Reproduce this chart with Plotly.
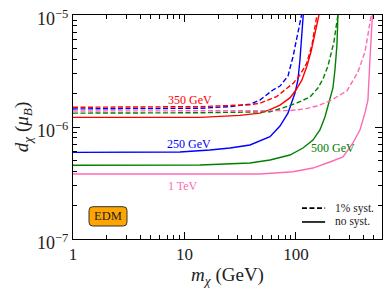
import plotly.graph_objects as go

# ---- data (m_chi in GeV, d_chi in mu_B) ----
m_250_nosys = [1, 4.9, 9.1, 16.9, 25.6, 38.7, 58.5, 71.9, 84.8, 98.0, 104.2, 108.6, 113.2, 116.3]
d_250_nosys = [5.94e-7, 5.94e-7, 5.98e-7, 6.23e-7, 6.49e-7, 6.91e-7, 8.19e-7, 1.02e-6, 1.33e-6, 2.01e-6, 2.63e-6, 3.96e-6, 6.63e-6, 1.0e-5]
m_250_sys = [1, 4.9, 13.8, 25.6, 38.7, 47.5, 62.2, 71.9, 84.8, 94.0, 104.2, 113.2]
d_250_sys = [1.45e-6, 1.45e-6, 1.47e-6, 1.52e-6, 1.60e-6, 1.74e-6, 2.14e-6, 2.32e-6, 2.85e-6, 4.22e-6, 6.91e-6, 1.04e-5]

m_350_nosys = [1, 13.8, 31.5, 47.5, 58.5, 71.9, 88.3, 100.0, 113.2, 125.5, 136.3, 148.1, 160.8]
d_350_nosys = [1.22e-6, 1.22e-6, 1.27e-6, 1.33e-6, 1.43e-6, 1.57e-6, 1.82e-6, 2.14e-6, 2.63e-6, 3.50e-6, 4.67e-6, 6.63e-6, 1.0e-5]
m_350_sys = [1, 13.8, 38.7, 47.5, 67.1, 94.6, 108.6, 124.7, 139.2, 154.3]
d_350_sys = [1.50e-6, 1.52e-6, 1.58e-6, 1.63e-6, 1.87e-6, 2.46e-6, 2.91e-6, 3.70e-6, 5.40e-6, 1.0e-5]

m_500_nosys = [1, 13.8, 38.7, 58.5, 88.3, 115.6, 142.1, 164.1, 182.0, 201.8, 214.7, 223.8, 233.2, 238.1]
d_500_nosys = [4.55e-7, 4.58e-7, 4.77e-7, 5.07e-7, 5.62e-7, 6.49e-7, 7.65e-7, 9.40e-7, 1.23e-6, 1.74e-6, 2.23e-6, 3.23e-6, 5.40e-6, 1.0e-5]
m_500_sys = [1, 13.8, 58.5, 76.4, 102.1, 133.6, 157.5, 174.7, 193.6, 206.0, 219.2, 228.4, 238.1]
d_500_sys = [1.33e-6, 1.34e-6, 1.37e-6, 1.48e-6, 1.64e-6, 1.85e-6, 2.23e-6, 2.68e-6, 3.50e-6, 4.39e-6, 5.74e-6, 7.65e-6, 1.0e-5]

m_1000_nosys = [1, 47.5, 94.0, 142.1, 201.8, 264.0, 324.5, 375.0, 415.8, 442.3, 461.0, 475.5, 485.4]
d_1000_nosys = [3.80e-7, 3.80e-7, 3.99e-7, 4.30e-7, 4.87e-7, 5.40e-7, 7.20e-7, 9.40e-7, 1.33e-6, 1.74e-6, 3.96e-6, 7.35e-6, 1.0e-5]
m_1000_sys = [1, 88.3, 120.4, 154.3, 201.8, 286.7, 359.8, 415.8, 442.3, 461.0, 473.5]
d_1000_sys = [1.39e-6, 1.40e-6, 1.45e-6, 1.54e-6, 1.71e-6, 2.10e-6, 3.10e-6, 4.67e-6, 6.63e-6, 8.66e-6, 1.0e-5]

x_tickvals = [1, 10, 100]
x_ticktext = ["1", "10", "100"]
y_tickvals = [1e-7, 1e-6, 1e-5]
y_ticktext = ["10<sup>−7</sup>", "10<sup>−6</sup>", "10<sup>−5</sup>"]

series = [
    (m_250_nosys, d_250_nosys, "#0000FF", "solid"),
    (m_250_sys, d_250_sys, "#0000FF", "dash"),
    (m_350_nosys, d_350_nosys, "#FF0000", "solid"),
    (m_350_sys, d_350_sys, "#FF0000", "dash"),
    (m_500_nosys, d_500_nosys, "#008000", "solid"),
    (m_500_sys, d_500_sys, "#008000", "dash"),
    (m_1000_nosys, d_1000_nosys, "#FF69B4", "solid"),
    (m_1000_sys, d_1000_sys, "#FF69B4", "dash"),
]

FONT = "Liberation Serif"
DASH = "5px,2.5px"
TXT = "#222"

fig = go.Figure()
for mx, dy, col, ds in series:
    fig.add_trace(go.Scatter(x=mx, y=dy, mode="lines", showlegend=False,
                             line=dict(color=col, width=1.4, dash=DASH if ds == "dash" else "solid")))

minor_x = [2, 3, 4, 5, 6, 7, 8, 9, 20, 30, 40, 50, 60, 70, 80, 90, 200, 300, 400, 500]
minor_y = [k * 1e-7 for k in range(2, 10)] + [k * 1e-6 for k in range(2, 10)]

fig.update_xaxes(type="log", range=[0, 2.772], tickvals=x_tickvals, ticktext=x_ticktext,
                 automargin=False, ticklabeloverflow="allow",
                 ticks="inside", ticklen=7, tickwidth=1, tickcolor="black",
                 showline=True, linecolor="black", linewidth=1, mirror="ticks",
                 showgrid=False, zeroline=False,
                 minor=dict(tickvals=minor_x, ticks="inside", ticklen=4, tickcolor="black", showgrid=False),
                 tickfont=dict(family=FONT, size=17, color=TXT),
                 title=dict(text="<i>m</i><sub><i>χ</i></sub> (GeV)", standoff=4,
                            font=dict(family=FONT, size=19, color=TXT)))
fig.update_yaxes(type="log", range=[-7, -5], tickvals=y_tickvals, ticktext=y_ticktext,
                 automargin=False, ticklabeloverflow="allow", ticklabelshift=4,
                 ticks="inside", ticklen=7, tickwidth=1, tickcolor="black",
                 showline=True, linecolor="black", linewidth=1, mirror="ticks",
                 showgrid=False, zeroline=False,
                 minor=dict(tickvals=minor_y, ticks="inside", ticklen=4, tickcolor="black", showgrid=False),
                 tickfont=dict(family=FONT, size=18, color=TXT),
                 title=dict(text="<i>d</i><sub><i>χ</i></sub> (<i>μ</i><sub><i>B</i></sub>)", standoff=3,
                            font=dict(family=FONT, size=19, color=TXT)))

labels = [
    ("350 GeV", 1.049, -5.763, "#FF0000"),
    ("250 GeV", 1.040, -6.152, "#0000FF"),
    ("500 GeV", 2.336, -6.188, "#008000"),
    ("1 TeV", 0.991, -6.527, "#FF69B4"),
]
for txt, lx, ly, col in labels:
    fig.add_annotation(x=lx, y=ly, xref="x", yref="y", text=txt, showarrow=False,
                       xanchor="center", yanchor="middle",
                       font=dict(family=FONT, size=12, color=col))

# EDM tag (rounded box)
x0, x1, y0, y1 = 0.0518, 0.1748, 0.058, 0.1442
rx, ry = 0.012, 0.017
path = (f"M {x0+rx},{y0} L {x1-rx},{y0} Q {x1},{y0} {x1},{y0+ry} L {x1},{y1-ry} "
        f"Q {x1},{y1} {x1-rx},{y1} L {x0+rx},{y1} Q {x0},{y1} {x0},{y1-ry} "
        f"L {x0},{y0+ry} Q {x0},{y0} {x0+rx},{y0} Z")
fig.add_shape(type="path", path=path, xref="paper", yref="paper",
              fillcolor="#FFA500", line=dict(color="#333", width=1))
fig.add_annotation(x=(x0 + x1) / 2, y=(y0 + y1) / 2, xref="paper", yref="paper", text="EDM",
                   showarrow=False, xanchor="center", yanchor="middle",
                   font=dict(family=FONT, size=12.5, color=TXT))

# legend key (lower right corner)
legend_items = [("1% syst.", DASH, 0.138), ("no syst.", "solid", 0.076)]
for name, ds, ly in legend_items:
    fig.add_shape(type="line", xref="paper", yref="paper", x0=0.741, x1=0.816, y0=ly, y1=ly,
                  line=dict(color="black", width=1.6, dash=ds))
    fig.add_annotation(x=0.841, y=ly, xref="paper", yref="paper", text=name, showarrow=False,
                       xanchor="left", yanchor="middle", font=dict(family=FONT, size=11.5, color=TXT))

# the page adds an 8px body margin, so the margins are reduced by 8px on the left/top
fig.update_layout(
    width=392, height=294,
    margin=dict(l=65, r=18, t=7, b=63),
    paper_bgcolor="white", plot_bgcolor="white",
    showlegend=False,
)

fig.write_html("out.html")
